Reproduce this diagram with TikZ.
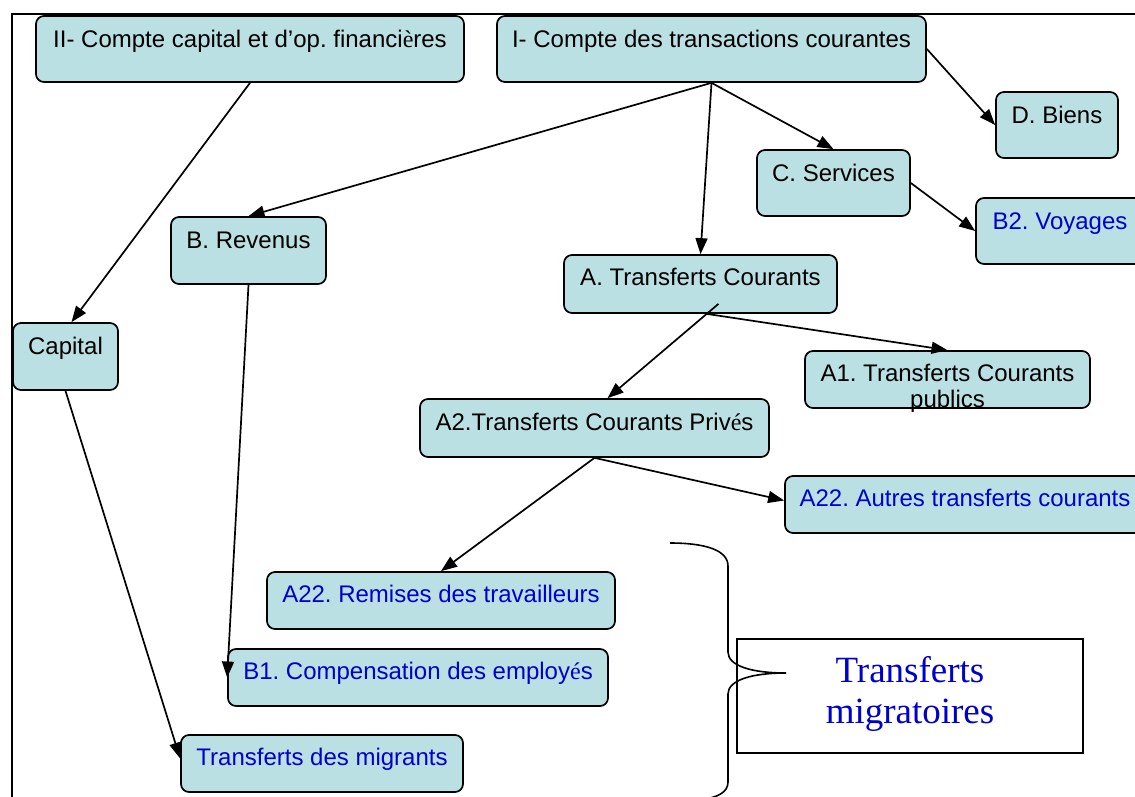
\documentclass[tikz,border=0pt]{standalone}
\usepackage{fontspec}
\setmainfont{Liberation Sans}
\newfontfamily\timesf{Liberation Serif}
\usetikzlibrary{arrows.meta,calc}
\definecolor{boxfill}{RGB}{187,224,227}
\definecolor{tblue}{RGB}{0,0,204}
\frenchspacing
\begin{document}
\begin{tikzpicture}[x=1pt,y=-1pt,
  box/.style={draw=black, line width=1.7pt, rounded corners=8pt, fill=boxfill, inner sep=0pt},
  lbl/.style={anchor=base, font=\fontsize{24}{26}\selectfont, inner sep=0pt, align=center},
  bluetxt/.style={text=tblue},
  arr/.style={line width=1.7pt, -{Triangle[length=16pt,width=12pt]}},
  plainbox/.style={draw=black, line width=1.5pt, fill=white, inner sep=0pt}
]
\useasboundingbox (0,0) rectangle (1135,797);
\clip (0,0) rectangle (1135,797);
\fill[white] (0,0) rectangle (1135,797);

% frame
\draw[line width=2pt] (12,800) -- (12,14) -- (1140,14);

% boxes
\node[box, minimum width=428pt, minimum height=66pt] (ii)  at (250,49) {};
\node[box, minimum width=429pt, minimum height=66pt] (i)   at (711.5,49) {};
\node[box, minimum width=122pt, minimum height=66pt] (d)   at (1057,125) {};
\node[box, minimum width=153pt, minimum height=66pt] (cs)  at (833.5,183) {};
\node[box, minimum width=168pt, minimum height=66pt] (b2)  at (1060,231) {};
\node[box, minimum width=155pt, minimum height=67pt] (rev) at (248.5,250.5) {};
\node[box, minimum width=273pt, minimum height=58pt] (at)  at (700.5,284) {};
\node[box, minimum width=105pt, minimum height=67pt] (cap) at (65.5,356.5) {};
\node[box, minimum width=285pt, minimum height=57pt] (a1)  at (947.5,379.5) {};
\node[box, minimum width=349pt, minimum height=58pt] (a2)  at (594.5,428) {};
\node[box, minimum width=360pt, minimum height=57pt] (aut) at (965,504.5) {};
\node[box, minimum width=348pt, minimum height=57pt] (rem) at (441,600.5) {};
\node[box, minimum width=380pt, minimum height=57pt] (b1)  at (418,677.5) {};
\node[box, minimum width=282pt, minimum height=57pt] (mig) at (322,763.5) {};
\node[plainbox, minimum width=346pt, minimum height=114pt] (tm) at (910,696) {};

% labels
\node[lbl] (tii)  at ([yshift=-32.5pt]ii.north)  {II- Compte capital et d’op. financi{\timesf è}res};
\node[lbl] (ti)   at ([yshift=-32.5pt]i.north)   {I- Compte des transactions courantes};
\node[lbl] (td)   at ([yshift=-32.5pt]d.north)   {D. Biens};
\node[lbl] (tcs)  at ([yshift=-32.5pt]cs.north)  {C. Services};
\node[lbl,bluetxt] (tb2) at ([yshift=-32.5pt]b2.north) {B2. Voyages};
\node[lbl] (trev) at ([yshift=-32.5pt]rev.north) {B. Revenus};
\node[lbl] (tat)  at ([yshift=-31.5pt]at.north)  {A. Transferts Courants};
\node[lbl] (tcap) at ([yshift=-32.5pt]cap.north) {Capital};
\node[lbl] (ta1)  at ([yshift=-57.5pt]a1.north)  {A1. Transferts Courants\\publics};
\node[lbl] (ta2)  at ([yshift=-32.5pt]a2.north)  {A2.Transferts Courants Priv{\timesf é}s};
\node[lbl,bluetxt] (taut) at ([yshift=-31.5pt]aut.north) {A22. Autres transferts courants};
\node[lbl,bluetxt] (trem) at ([yshift=-31.5pt]rem.north) {A22. Remises des travailleurs};
\node[lbl,bluetxt] (tb1)  at ([yshift=-31.5pt]b1.north)  {B1. Compensation des employ{\timesf é}s};
\node[lbl,bluetxt] (tmig) at ([yshift=-31.5pt]mig.north) {Transferts des migrants};
\node[anchor=base, inner sep=0pt, align=center, text=tblue, font=\timesf\fontsize{37}{41}\selectfont] (ttm) at ([yshift=-85pt]tm.north) {Transferts\\migratoires};

% arrows
\draw[arr] (i.south) -- (rev.north);
\draw[arr] (i.south) -- (at.north);
\draw[arr] (i.south) -- (cs.north);
\draw[arr] (i.east) -- (d.west);
\draw[arr] (cs.east) -- (b2.west);
\draw[arr] ([xshift=6pt]at.south) -- (a1.north);
\draw[arr] ([shift={(18pt,10pt)}]at.south) -- ([xshift=13pt]a2.north);
\draw[arr] (a2.south) -- ([yshift=4pt]aut.west);
\draw[arr] (a2.south) -- (rem.north);
\draw[arr] (rev.south) -- (b1.west);
\draw[arr] (ii.south) -- ([xshift=6pt]cap.north);
\draw[arr] (cap.south) -- ([yshift=5pt]mig.west);

% brace
\coordinate (btop) at (670,543);
\coordinate (btip) at (786,673);
\coordinate (bbot) at (705,799);
\draw[line width=1.6pt] (btop) .. controls (705,543) and (728,550) .. (728,566)
  -- (728,652) .. controls (728,666) and (752,673) .. (btip)
  .. controls (752,673) and (728,680) .. (728,694)
  -- (728,782) .. controls (728,792) and (718,797) .. (bbot);
\end{tikzpicture}
\end{document}
